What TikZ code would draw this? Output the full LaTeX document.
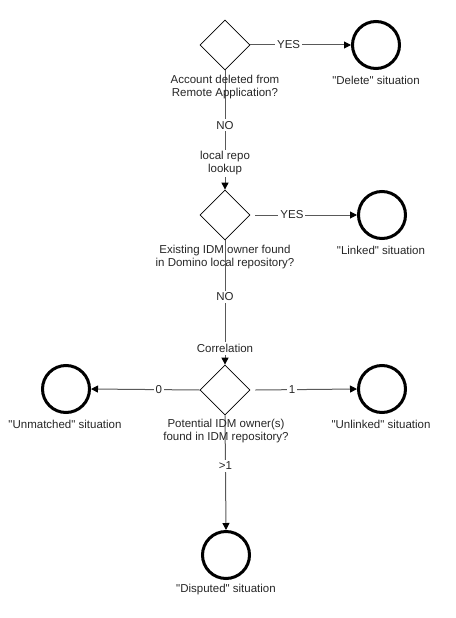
\documentclass[tikz,border=0pt]{standalone}
\usepackage{fontspec}
\setmainfont{Liberation Sans}[Ligatures=TeXOff]
\usetikzlibrary{shapes.geometric,arrows.meta}
\newcommand{\sq}{\symbol{34}}
\definecolor{txt}{HTML}{262626}
\definecolor{ln}{HTML}{595959}
\tikzset{
  dec/.style={diamond, draw=black, line width=0.8pt, minimum width=50pt, minimum height=50pt, inner sep=0pt, aspect=1},
  endst/.style={circle, draw=black, line width=3pt, minimum size=47pt, inner sep=0pt},
  txtl/.style={text=txt, font=\fontsize{11.5pt}{13pt}\selectfont, align=center, inner sep=1pt},
  lbl/.style={txtl, fill=white, inner sep=2pt},
  conn/.style={draw=ln, line width=1pt, -{Triangle[length=7pt,width=7pt,color=black]}},
}
\begin{document}
\begin{tikzpicture}[x=1pt,y=-1pt]
\useasboundingbox (0,0) rectangle (455,618);
% decisions
\node[dec] (d1) at (225,45) {};
\node[dec] (d2) at (225,215) {};
\node[dec] (d3) at (225,390) {};
% end states
\node[endst] (c1) at (376,45) {};
\node[endst] (c2) at (382,215) {};
\node[endst] (c4) at (66,389) {};
\node[endst] (c5) at (382,389) {};
\node[endst] (c6) at (226,555) {};
% edges
\draw[conn] (d1.east) -- node[lbl, pos=0.38] {YES} (c1.west);
\draw[conn] (d1.south) -- node[lbl, pos=0.46] {NO} node[lbl, pos=0.78] {local repo\\lookup} (d2.north);
\draw[conn] ([xshift=5pt]d2.east) -- node[lbl, pos=0.36] {YES} (c2.west);
\draw[conn] (d2.south) -- node[lbl, pos=0.456] {NO} node[lbl, pos=0.87] {Correlation} (d3.north);
\draw[conn] (d3.west) -- node[lbl, pos=0.376] {0} (c4.east);
\draw[conn] ([xshift=5pt]d3.east) -- node[lbl, pos=0.36] {1} (c5.west);
\draw[conn] (d3.south) -- node[lbl, pos=0.44] {>1} (c6.north);
% question texts
\node[txtl] (q1) at (225,87.5) {Account deleted from\\Remote Application?};
\node[txtl] (q2) at (225,257) {Existing IDM owner found\\in Domino local repository?};
\node[txtl] (q3) at (226,431.5) {Potential IDM owner(s)\\found in IDM repository?};
% end state texts
\node[txtl] (t1) at (376,80) {\sq Delete\sq{} situation};
\node[txtl] (t2) at (381,250) {\sq Linked\sq{} situation};
\node[txtl] (t4) at (65,424) {\sq Unmatched\sq{} situation};
\node[txtl] (t5) at (381,424) {\sq Unlinked\sq{} situation};
\node[txtl] (t6) at (226,590) {\sq Disputed\sq{} situation};
\end{tikzpicture}
\end{document}
